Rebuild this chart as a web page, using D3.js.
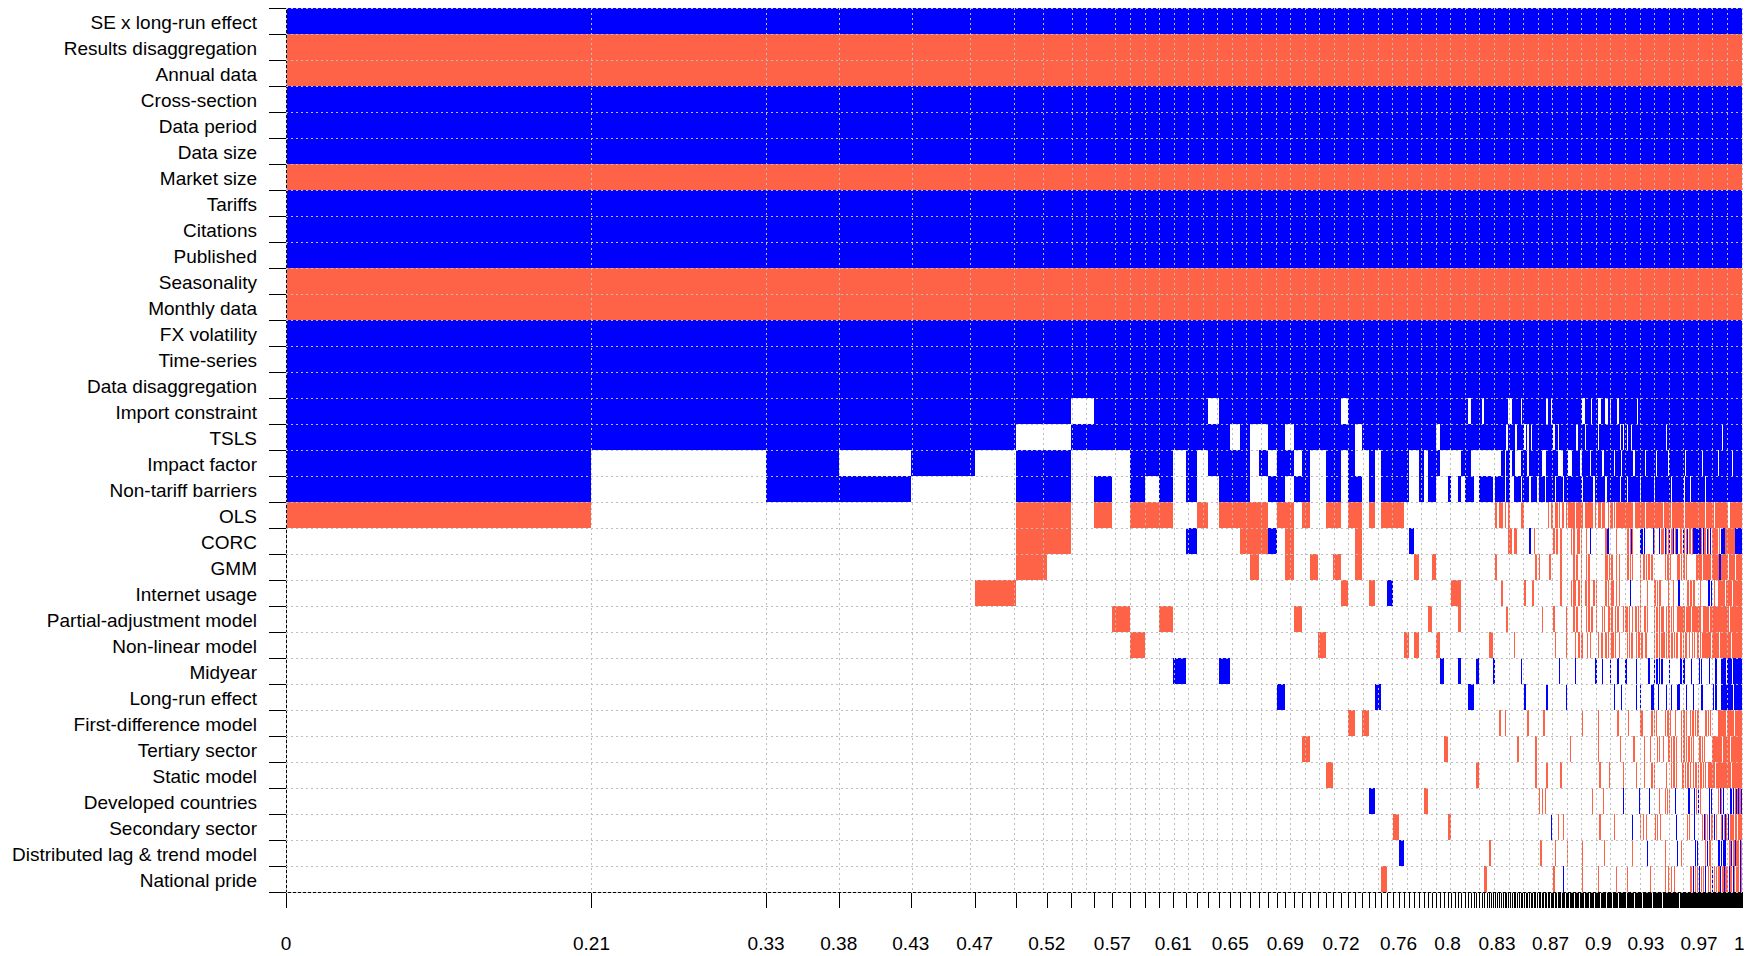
<!DOCTYPE html>
<html><head><meta charset="utf-8">
<script src="https://cdn.jsdelivr.net/npm/d3@7"></script>
<style>
html,body{margin:0;padding:0;background:#fff;}
svg{display:block;font-family:"Liberation Sans",Arial,sans-serif;}
</style></head><body>
<svg id="chart" width="1753" height="956"></svg>
<script>
// Variables (rows, top to bottom)
const variables = ["SE x long-run effect","Results disaggregation","Annual data","Cross-section","Data period","Data size","Market size","Tariffs","Citations","Published","Seasonality","Monthly data","FX volatility","Time-series","Data disaggregation","Import constraint","TSLS","Impact factor","Non-tariff barriers","OLS","CORC","GMM","Internet usage","Partial-adjustment model","Non-linear model","Midyear","Long-run effect","First-difference model","Tertiary sector","Static model","Developed countries","Secondary sector","Distributed lag & trend model","National pride"];

// Posterior model probabilities (column widths), best model first
const pmpTop = [0.2098,0.1199,0.0499,0.0495,0.0439,0.0284,0.0211,0.0165,0.0158,0.0127,0.0122,0.0103,0.0098,0.0096,0.0085,0.0078,0.0077,0.0076,0.0075,0.0069,0.0068,0.0062,0.0061,0.0060,0.0058,0.0057,0.0057,0.0056,0.0055,0.0054,0.0052,0.0052,0.0051,0.0047,0.0046,0.0045,0.0044,0.0042,0.0041,0.0040,0.0039];
const pmpMid = [0.00371,0.00357,0.00343,0.00330,0.00316,0.00302,0.00288,0.00275,0.00268,0.00261,0.00254,0.00247,0.00240,0.00234,0.00227,0.00220,0.00213,0.00206,0.00199,0.00192,0.00185,0.00179,0.00172,0.00165,0.00158,0.00151];
const pmpTail1 = [0.00137,0.00137,0.00134,0.00134,0.00130,0.00130,0.00130,0.00127,0.00127,0.00124,0.00124,0.00124,0.00120,0.00120,0.00120,0.00117,0.00117,0.00117,0.00113,0.00113,0.00113,0.00110,0.00110,0.00110,0.00110,0.00106,0.00106,0.00106,0.00106,0.00103,0.00103,0.00103,0.00103,0.00100,0.00100,0.00100,0.00100,0.00096,0.00096,0.00096,0.00096,0.00096,0.00093,0.00093,0.00093,0.00093,0.00089,0.00089];
const pmpTail2 = [
0.00086,0.00086,0.00086,0.00086,0.00086,0.00086,0.00086,0.00086,0.00086,0.00086,0.00086,0.00086,0.00086,0.00086,0.00086,0.00086,0.00086,0.00086,0.00086,0.00086,
0.00082,0.00082,0.00082,0.00082,0.00082,0.00082,0.00082,0.00082,0.00082,0.00082,0.00082,0.00082,0.00082,0.00082,0.00082,0.00082,0.00082,0.00082,0.00082,0.00082,
0.00079,0.00079,0.00079,0.00079,0.00079,0.00079,0.00079,0.00079,0.00079,0.00079,0.00079,0.00079,0.00079,0.00079,0.00079,0.00079,0.00079,0.00079,0.00079,0.00079,
0.00076,0.00076,0.00076,0.00076,0.00076,0.00076,0.00076,0.00076,0.00076,0.00076,0.00076,0.00076,0.00076,0.00076,0.00076,0.00076,0.00076,0.00076,0.00076,0.00076,
0.00073,0.00073,0.00073,0.00073,0.00073,0.00073,0.00073,0.00073,0.00073,0.00073,0.00073,0.00073,0.00073,0.00073,0.00073,0.00073,0.00073,0.00073,0.00073,0.00073,
0.00070,0.00070,0.00070,0.00070,0.00070,0.00070,0.00070,0.00070,0.00070,0.00070,0.00070,0.00070,0.00070,0.00070,0.00070,0.00070,0.00070,0.00070,0.00070,0.00070,
0.00067,0.00067,0.00067,0.00067,0.00067,0.00067,0.00067,0.00067,0.00067,0.00067,0.00067,0.00067,0.00067,0.00067,0.00067,0.00067,0.00067,0.00067,0.00067,0.00067,
0.00063,0.00063,0.00063,0.00063,0.00063,0.00063,0.00063,0.00063,0.00063,0.00063,0.00063,0.00063,0.00063,0.00063,0.00063,0.00063,0.00063,0.00063,0.00063,0.00063];

// Inclusion and sign of each variable in each model ("+" positive, "-" negative, "." not included),
// run-length encoded, one block per pmp array above (separated by "|")
const inclusion = [
"41+|26+|48+|160+",
"41-|26-|48-|160-",
"41-|26-|48-|160-",
"41+|26+|48+|160+",
"41+|26+|48+|160+",
"41+|26+|48+|160+",
"41-|26-|48-|160-",
"41+|26+|48+|160+",
"41+|26+|48+|160+",
"41+|26+|48+|160+",
"41-|26-|48-|160-",
"41-|26-|48-|160-",
"41+|26+|48+|160+",
"41+|26+|48+|160+",
"41+|26+|48+|160+",
"8+.8+.14+.8+|17+.4+.3+|9+2.5+.15+.2+.12+|11+2.5+.5+2.4+2.2+.5+.16+.102+",
"6+2.11+.+2.2+.8+.6+|8+.17+|8+.4+.4+.+.+.14+.2+.7+|6+2.5+.10+.17+.2+.2+.3+.30+.54+.21+",
"+.+.+.++...+++.+.++++.+.++.+..++.+..+.+++|++..+.+++......+++........|5.2+.2+.2+3.4+.8+3.8+4.4+|3.6+2.6+.9+2.8+.5+.10+.9+.9+.10+.15+.16+.15+.14+.10+",
"+.++..++.+.+.+.+..+++..++.++..++.++.+.+++|++..+.++...+..+.+++..+++++|+.5+.2+2.4+.4+.4+.4+.6+.5+.3+|11+.8+.9+.11+.5+.11+.11+.15+.11+.5+.14+.38+",
"-.....--.-.---..-.-----.--.-..--.--.-.---|-25.|2.-.2-.-.-6.2-15.-.2-.2-.-.2-.-.|5-.6-.5-2-.-..2-.3-..-.2-.-.3-12-.9-.15-.7-.11-.20-.8-.14-2.13-",
"6.2-7.+4.3-+.-8.-6.|2.+23.|9.2-.2-7.+2.-12.-.-2.-5.|2.-.-2.2-.-3.-2.+12.-2+6.-8.2-.-+-6.2+.+7.+-4.+.2-.+-.-+.2-+.-2+.2-.+-.-+.2-.-8+-.+2-.+-.+.-5-.-.4+.-9-8+",
"6.-14.-3.-2.-2.-2.-6.|3.-3.-18.|2.-22.-.-6.-7.-5.|4.-.2-2.-3.-.-13.2-.-.-3.-.-6.2-.-.-6.-.2-.-.2-.-11.-.2-.-6.2-.-.2-.-9.6-.8-.7-2+8-.6-.7-",
"5.-26.-3.-2.+.|12.3-11.|5.-12.-4.-18.-5.|2.-.2-2.-.-2.2-.-3.-.-7.-.-2.2-2.-.-9.+8.-5.-5.2-.-.2-6.-4.-4.+7.2-.2-.2-5.-7.2+.+2.-3.8-.6-.10-",
"10.-2.-12.-14.|6.-7.-11.|8.-20.-7.-8.-.|4.-.2-2.-3.-.-.2-2.-4.-.-2.2-.-2.-.-4.-.2-.-2.-.2-.-.-2.2-.-5.-.2-.-.2-2.-.2-.-.-3.7-.5-.9-2.6-.8-12-.13-",
"11.-17.-11.|.-.-4.-16.-|-11.-25.-7.-.|5.-2.-.2-3.-.-6.-.2-2.-.-2.2-.-2.-6.-.-.2-2.-.2-.-2.2-6.-.2-.-.3-.-.2-.2-.-.2-.2-.-.2-2.-2.-.-2.2-.-.9-.7-.12-.4-.6-",
"14.+3.+22.|9.+4.+5.+5.|.+14.+24.+6.|5.+15.2+4.+6.+5.+6.+8.+10.2+3.+.2+.+.+6.+9.2+.2+6.+7.+.+7.+5.2+4.6+.5+.10+",
"24.+12.+3.|17.2+7.|18.+13.+13.+.|37.+5.+12.+3.+9.2+4.+6.+4.+5.2+6.+6.+7.2+10.+.2+4.4+.8+.9+",
"33.-.-5.|26.|4.-2.-12.-9.-17.|11.-12.-15.-8.-10.2-8.-.-.-7.-.2-.-4.-4.-.2-.-3.-.2-.-.2-6.2-.-.-7.9-.7-.8-",
"27.-13.|10.-15.|14.-10.-22.|.-22.-17.-11.-8.-5.-5.-.-2.-4.2-.-.2-.-3.-.2-.-.2-.-.-5.2-.-.-7.10-.8-.12-",
"30.-10.|20.-5.|25.-6.-9.-5.|25.-7.-11.-10.-6.-6.-.-10.-4.-.2-.-4.2-.-.2-.-2.-.2-.-.2-.-.-2.7-.9-.6-.11-",
"36.+4.|5.-20.|27.-.-.-16.|19.-8.-16.+13.+8.+8.-4.-.-.-5.+11.2+4.+.-.+.-8.+.+6.-.+-.+7.2+.+.2-+-+2-+",
"40.-|11.-14.|35.+4.-3.-3.|25.-11.-15.+6.-.-2.-7.-.-2.-14.+9.-.-4.+7.-.+-.-.+.2-.+.-4.-+.-+.-.+.4-.3-.4-",
"41.|+24.-|28.-9.-8.-|11.-17.-23.-12.+15.-11.+2.-13.+.+7.-.+.2-7.2+.+.2+.+3.2-+.2-+.3-.+-",
"38.-2.|23.-2.|37.-6.+3.|11.-12.-14.-8.-20.-12.-2.-2.-2.-14.2-.+.-.-.+.-.-.+2.-.-.+.-.-.2-+.2-+-.2-.+2-.+-.+3-.+-"
];

const blocks = [pmpTop, pmpMid, pmpTail1, pmpTail2];
const pmp = blocks.flat();
const nModels = pmp.length;
function expand(s, n) {
  let out = s.replace(/(\d+)(\D)/g, (m, k, c) => c.repeat(+k));
  if (out.length < n) out += ".".repeat(n - out.length);
  return out.slice(0, n);
}
const signs = inclusion.map(str => str.split("|").map((seg, i) => expand(seg, blocks[i].length)).join(""));
const cum = [0];
pmp.forEach(p => cum.push(cum[cum.length - 1] + p));
const total = cum[cum.length - 1];

const FS = 19;
const X0 = 286, X1 = 1742, Y0 = 8, Y1 = 892;
const svg = d3.select("#chart");
const x = d3.scaleLinear().domain([0, total]).range([X0, X1]);
const y = d3.scaleBand().domain(variables).range([Y0, Y1]).padding(0);
const rowScale = d3.scaleLinear().domain([0, variables.length]).range([Y0, Y1]);
const colors = {"+": "#0000FF", "-": "#FF6347"};

// cells, merged into runs of equal sign
const cells = [];
signs.forEach((row, i) => {
  let j = 0;
  while (j < nModels) {
    const c = row[j]; let k = j;
    while (k < nModels && row[k] === c) k++;
    if (c !== ".") cells.push({v: variables[i], c, a: cum[j], b: cum[k]});
    j = k;
  }
});
svg.append("g").selectAll("rect").data(cells).join("rect")
  .attr("x", d => x(d.a)).attr("width", d => Math.max(1, x(d.b) - x(d.a)))
  .attr("y", d => y(d.v)).attr("height", y.bandwidth())
  .attr("fill", d => colors[d.c]).attr("shape-rendering", "crispEdges");

// axes
const xAxis = d3.axisBottom(x).tickValues(cum).tickSize(16).tickSizeOuter(0).tickFormat("");
svg.append("g").attr("transform", `translate(0,${Y1})`).call(xAxis)
  .call(g => g.selectAll("line,path").attr("stroke", "#000").attr("shape-rendering", "crispEdges"));
const yAxis = d3.axisLeft(rowScale).tickValues(d3.range(variables.length + 1)).tickSize(17).tickSizeOuter(0).tickFormat("");
svg.append("g").attr("transform", `translate(${X0},0)`).call(yAxis)
  .call(g => g.selectAll("line,path").attr("stroke", "#000").attr("shape-rendering", "crispEdges"));

// dotted grid
const gridX = Array.from(new Set(cum.map(c => Math.round(c / total * 100) / 100)));
const grid = svg.append("g").attr("stroke", "#BEBEBE").attr("stroke-dasharray", "2,3").attr("shape-rendering", "crispEdges");
grid.selectAll("line.v").data(gridX).join("line").attr("class", "v")
  .attr("x1", d => Math.floor(x(d * total)) + 0.5).attr("x2", d => Math.floor(x(d * total)) + 0.5)
  .attr("y1", Y0).attr("y2", Y1);
grid.selectAll("line.h").data(d3.range(variables.length + 1)).join("line").attr("class", "h")
  .attr("x1", X0).attr("x2", X1).attr("y1", d => rowScale(d) + 0.5).attr("y2", d => rowScale(d) + 0.5);

// row labels
svg.append("g").selectAll("text").data(variables).join("text")
  .attr("x", 257).attr("y", d => y(d) + y.bandwidth() / 2 + 7.5)
  .attr("text-anchor", "end").attr("font-size", FS).attr("fill", "#000").text(d => d);

// x labels (skip overlapping ones)
const ctx = document.createElement("canvas").getContext("2d");
ctx.font = FS + "px 'Liberation Sans'";
const gap = ctx.measureText("m").width;
let lastRight = -Infinity;
const xl = [];
cum.forEach(c => {
  const t = String(Math.round(c / total * 100) / 100);
  const w = ctx.measureText(t).width;
  const cx = x(c);
  if (cx - w / 2 >= lastRight + gap) { xl.push({cx, t}); lastRight = cx + w / 2; }
});
svg.append("g").selectAll("text").data(xl).join("text")
  .attr("x", d => d.cx).attr("y", 950).attr("text-anchor", "middle")
  .attr("font-size", FS).attr("fill", "#000").text(d => d.t);
</script>
</body></html>
